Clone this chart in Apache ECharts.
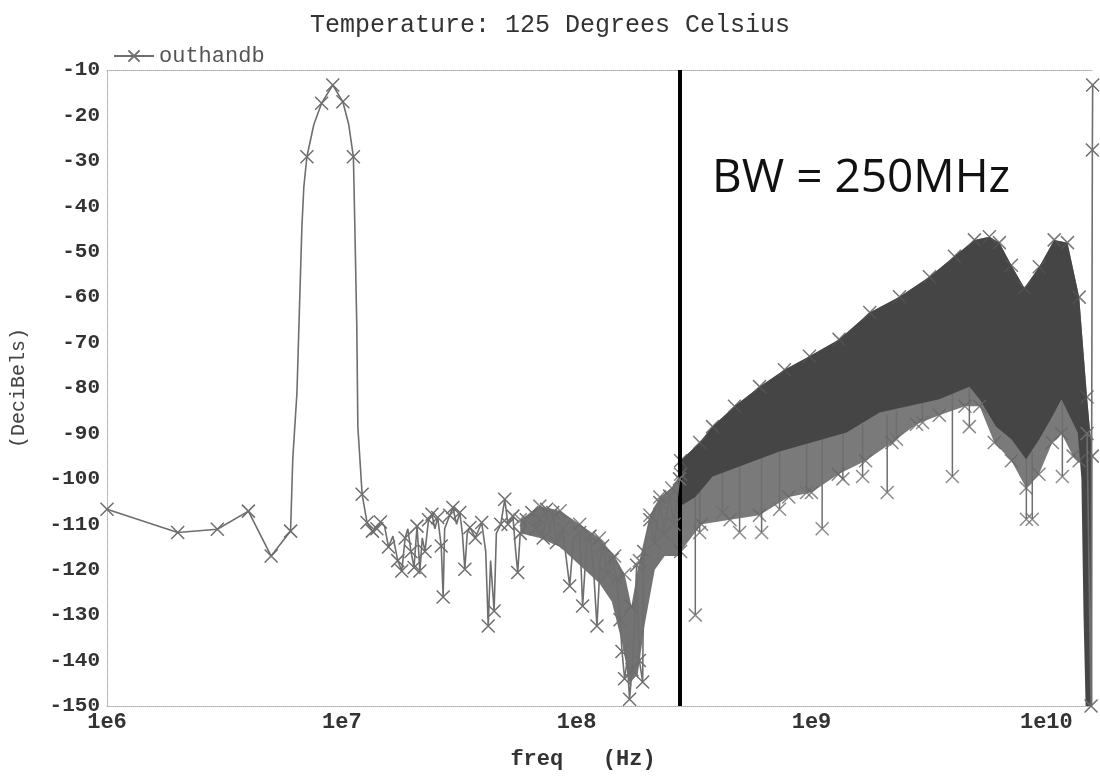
<!DOCTYPE html>
<html><head><meta charset="utf-8">
<script src="https://cdn.jsdelivr.net/npm/echarts@6/dist/echarts.min.js"></script>
<style>html,body{margin:0;padding:0;background:#fff}#c{width:1100px;height:777px}</style>
</head><body><div id="c"></div>
<script>
const titleText = 'Temperature: 125 Degrees Celsius';
const seriesName = 'outhandb';
const xAxisName = 'freq   (Hz)';
const yAxisName = '(DeciBels)';
const bwLabel = 'BW = 250MHz';
const bwFreq = 2.75e8;
const xMin = 1e6, xMax = 1.58e10;
const yMin = -150, yMax = -10, yStep = 10;

// main trace (frequency in Hz, level in dB); traceMark = 1 where an X marker is drawn
const traceF = [1.0e6,2.0e6,2.95e6,4.0e6,5.0e6,6.05e6,6.18e6,6.44e6,6.63e6,6.76e6,6.89e6,7.10e6,7.6e6,8.2e6,9.15e6,1.01e7,1.07e7,1.12e7,1.136e7,1.158e7,1.17e7,
 1.22e7,1.28e7,1.35e7,1.41e7,1.46e7,1.52e7,1.58e7,1.65e7,1.73e7,1.80e7,1.86e7,1.91e7,1.97e7,2.03e7,2.09e7,2.15e7,2.20e7,2.26e7,2.34e7,2.42e7,2.49e7,2.56e7,2.65e7,2.70e7,2.74e7,2.88e7,2.97e7,3.08e7,3.18e7,3.26e7,3.34e7,3.42e7,3.51e7,3.70e7,3.94e7,4.10e7,4.20e7,4.30e7,4.45e7,4.55e7,4.75e7,4.94e7,5.10e7,5.35e7,5.50e7,5.61e7,5.75e7,5.89e7,6.10e7,6.44e7,6.7e7,6.97e7,7.2e7,7.45e7,7.7e7,7.91e7,8.2e7,8.72e7,9.0e7,9.34e7,9.7e7,1.03e8,1.06e8,1.10e8,1.14e8,1.18e8,1.22e8,1.26e8,1.29e8,1.35e8,1.42e8,1.48e8,1.53e8,1.56e8,1.60e8,1.64e8,1.68e8,1.72e8,1.76e8,1.80e8,1.85e8,1.91e8,1.93e8,2.05e8,2.15e8,2.26e8,2.35e8,2.49e8,2.60e8,2.74e8];
const traceDb = [-106.7,-111.8,-111.1,-107.1,-117.0,-111.5,-95.7,-81,-59,-44.5,-35.7,-29.1,-22,-17.3,-13.3,-17.0,-22,-29.1,-44.5,-66.5,-88.5,
 -103.4,-109.6,-111.5,-111,-109.5,-110.4,-115,-112.6,-118,-120.3,-113,-111,-116,-119.5,-110.4,-120.3,-113,-116,-109,-107.8,-111,-108.5,-114.8,-126,-111,-108,-106.3,-110,-107.4,-112,-119.9,-112,-110.7,-113,-109.6,-116,-132.4,-118,-129.1,-112,-110,-104.5,-110,-108.2,-116,-120.6,-112,-111.8,-109,-107.4,-111,-108.9,-113,-106.7,-112,-107.4,-114,-111,-117,-123.6,-113,-111.8,-128,-115,-112.6,-120,-132.4,-118,-114.8,-121,-117.7,-122,-131,-138,-144,-140,-148.5,-142,-133,-119,-140,-144.7,-116,-109,-114,-105.2,-112,-103.8,-110,-100];
const traceMark = [1,1,1,1,1,1,0,0,0,0,0,1,0,1,1,1,0,1,0,0,0,
 1,1,1,1,1,0,1,0,1,1,1,0,1,1,1,1,0,1,1,1,0,1,1,1,0,1,1,0,1,0,1,0,1,1,1,0,1,0,1,0,1,1,1,1,0,1,1,0,1,1,1,1,1,1,0,1,1,1,0,1,0,1,1,0,1,0,1,0,1,1,1,1,1,1,1,0,1,1,0,1,1,1,1,1,1,1,1,1,1,1];

// right-hand end of the sweep
const edgeF = [1.49e10,1.55e10,1.57e10,1.575e10];
const edgeDb = [-90,-150,-27.6,-13.3];

// dense region 6e7..2.8e8 (envelope)
const midTopF = [5.75e7,6.97e7,8.5e7,1.03e8,1.25e8,1.45e8,1.60e8,1.71e8,1.85e8,2.05e8,2.26e8,2.54e8,2.77e8];
const midTopDb = [-109,-106,-107,-110,-113,-117,-121,-128,-118,-108,-104,-102,-99];
const midBotF = [5.75e7,6.97e7,8.5e7,1.03e8,1.25e8,1.41e8,1.56e8,1.68e8,1.82e8,1.95e8,2.15e8,2.37e8,2.77e8];
const midBotDb = [-112,-113,-115,-119,-123,-127,-136,-145,-143,-132,-120,-117,-117];

// dense region above 2.8e8 (envelope)
const bandTopF = [2.77e8,3.34e8,3.79e8,4.70e8,6.01e8,7.67e8,9.80e8,1.31e9,1.77e9,2.37e9,3.18e9,4.06e9,4.94e9,5.72e9,6.31e9,7.10e9,8.06e9,9.33e9,1.08e10,1.23e10,1.38e10,1.49e10,1.57e10];
const bandTopDb = [-96,-92,-88.5,-84,-79.7,-76,-73,-69.3,-63.4,-59.9,-55.5,-51,-47.4,-46.7,-48,-53,-58,-53.3,-47.4,-48,-60,-82,-95];
const bandBotF = [2.77e8,3.2e8,3.79e8,7.31e8,1.41e9,1.95e9,3.5e9,4.7e9,5.2e9,6.1e9,7.1e9,8.2e9,9.33e9,1.06e10,1.16e10,1.36e10,1.41e10,1.44e10,1.47e10,1.57e10];
const bandBotDb = [-106,-104,-99.5,-94,-89.8,-85.4,-82.5,-79.7,-82.5,-88.5,-91.3,-95.7,-91.3,-86.3,-82.5,-89.8,-100,-130,-150,-150];
const texBotF = [2.77e8,3.4e8,4.5e8,6e8,8e8,1.0e9,1.3e9,1.7e9,2.2e9,2.8e9,3.5e9,4.5e9,5.2e9,6e9,7.1e9,8.2e9,9.3e9,1.06e10,1.16e10,1.3e10,1.38e10];
const texBotDb = [-116,-110,-109,-108,-104,-103,-99,-96,-92,-88,-86,-84,-84,-92,-96,-102,-99,-92,-90,-95,-96];

// isolated dips below the dense region
const spikeF = [3.2e8,3.34e8,4.18e8,4.94e8,6.13e8,7.31e8,9.53e8,1.11e9,1.36e9,1.65e9,2.10e9,2.30e9,2.97e9,3.98e9,4.70e9,8.22e9,8.71e9,1.17e10];
const spikeTop = [-104,-100,-98,-97,-95,-94,-92,-91,-90,-88,-86,-85,-83,-81,-80,-95,-94,-83];
const spikeBot = [-130,-111.8,-107.4,-111.8,-111.8,-106.7,-103,-111,-100,-99.5,-103,-91.3,-87.6,-99.5,-88.5,-108.9,-108.9,-99.5];

const xPath = 'path://M0,0L10,10M0,10L10,0';
const lineGray = '#6e6e6e';
const mono = 'Liberation Mono';

function polySeries(name, topF, topDb, botF, botDb, fill, opacity, z) {
  return {
    name, type: 'custom', silent: true, clip: true, z,
    data: [[topF[0], topDb[0]]],
    renderItem: (params, api) => {
      const pts = [];
      for (let i = 0; i < topF.length; i++) pts.push(api.coord([topF[i], topDb[i]]));
      for (let i = botF.length - 1; i >= 0; i--) pts.push(api.coord([botF[i], botDb[i]]));
      return { type: 'polygon', shape: { points: pts }, style: { fill, opacity } };
    }
  };
}
function markSeries(name, fs, dbs, color, size, z) {
  return {
    name, type: 'scatter', silent: true, z, symbol: xPath, symbolSize: size,
    data: fs.map((f, i) => [f, dbs[i]]),
    itemStyle: { color: 'none', borderColor: color, borderWidth: 1.5 }
  };
}

const chart = echarts.init(document.getElementById('c'));
chart.setOption({
  animation: false,
  backgroundColor: '#fff',
  title: { text: titleText, left: 'center', top: 8,
    textStyle: { fontFamily: mono, fontSize: 25, fontWeight: 'normal', color: '#333' } },
  legend: { data: [seriesName], left: 108, top: 40, itemWidth: 40, itemHeight: 14, itemGap: 4,
    textStyle: { fontFamily: mono, fontSize: 22, color: '#555' } },
  grid: { left: 107, right: 7, top: 70, bottom: 71 },
  xAxis: [{
    type: 'log', logBase: 10, min: xMin, max: xMax,
    name: xAxisName, nameLocation: 'middle', nameGap: 42,
    nameTextStyle: { fontFamily: mono, fontSize: 22, fontWeight: 'bold', color: '#333', padding: [0, 34, 0, 0] },
    axisLine: { show: true, lineStyle: { color: '#aaa', type: 'dotted', width: 1 } },
    axisTick: { show: false }, splitLine: { show: false },
    axisLabel: { fontFamily: mono, fontSize: 22, fontWeight: 'bold', color: '#333', margin: 5,
      formatter: v => { const l = Math.log10(v); return Math.abs(l - Math.round(l)) < 1e-6 ? '1e' + Math.round(l) : ''; } }
  }, {
    type: 'log', logBase: 10, min: xMin, max: xMax, position: 'top',
    axisLine: { show: true, lineStyle: { color: '#aaa', type: 'dotted', width: 1 } },
    axisTick: { show: false }, axisLabel: { show: false }, splitLine: { show: false }
  }],
  yAxis: {
    type: 'value', min: yMin, max: yMax, interval: yStep,
    name: yAxisName, nameLocation: 'middle', nameGap: 78,
    nameTextStyle: { fontFamily: mono, fontSize: 20, color: '#444' },
    axisLine: { show: true, lineStyle: { color: '#aaa', type: 'dotted', width: 1 } },
    axisTick: { show: false }, splitLine: { show: false },
    axisLabel: { fontFamily: mono, fontSize: 21, fontWeight: 'bold', color: '#333', margin: 7 }
  },
  graphic: [{ type: 'text', left: 712, top: 156, silent: true,
    style: { text: bwLabel, fontFamily: 'Open Sans', fontSize: 46, fill: '#111' } }],
  series: [
    polySeries('texture', bandTopF, bandTopDb, texBotF, texBotDb, '#595959', 0.8, 1),
    polySeries('midBand', midTopF, midTopDb, midBotF, midBotDb, '#5a5a5a', 0.85, 2),
    polySeries('band', bandTopF, bandTopDb, bandBotF, bandBotDb, '#454545', 1, 3),
    {
      name: 'spikes', type: 'custom', silent: true, clip: true, z: 2,
      encode: { x: 0, y: [1, 2] },
      data: spikeF.map((f, i) => [f, spikeTop[i], spikeBot[i]]),
      renderItem: (params, api) => {
        const a = api.coord([api.value(0), api.value(1)]);
        const b = api.coord([api.value(0), api.value(2)]);
        return { type: 'line', shape: { x1: a[0], y1: a[1], x2: b[0], y2: b[1] }, style: { stroke: lineGray, lineWidth: 1.5 } };
      }
    },
    markSeries('spikeMarks', spikeF, spikeBot, lineGray, 13, 4),
    markSeries('topMarks', bandTopF, bandTopDb, '#555', 13, 4),
    markSeries('texMarks', texBotF, texBotDb, '#666', 13, 4),
    markSeries('midMarks', midTopF, midTopDb, '#666', 13, 4),
    {
      name: 'edge', type: 'line', z: 5, symbol: xPath, symbolSize: 13,
      data: edgeF.map((f, i) => [f, edgeDb[i]]),
      lineStyle: { color: lineGray, width: 1.6 },
      itemStyle: { color: 'none', borderColor: lineGray, borderWidth: 1.5 }
    },
    {
      name: seriesName, type: 'line', z: 5, symbol: xPath, symbolSize: 13, showSymbol: true,
      data: traceF.map((f, i) => ({ value: [f, traceDb[i]], symbol: traceMark[i] ? xPath : 'none' })),
      lineStyle: { color: lineGray, width: 1.6 },
      itemStyle: { color: 'none', borderColor: lineGray, borderWidth: 1.5 },
      markLine: { silent: true, symbol: 'none', label: { show: false },
        lineStyle: { color: '#000', width: 4, type: 'solid' },
        data: [{ xAxis: bwFreq }] }
    }
  ]
});
</script></body></html>
